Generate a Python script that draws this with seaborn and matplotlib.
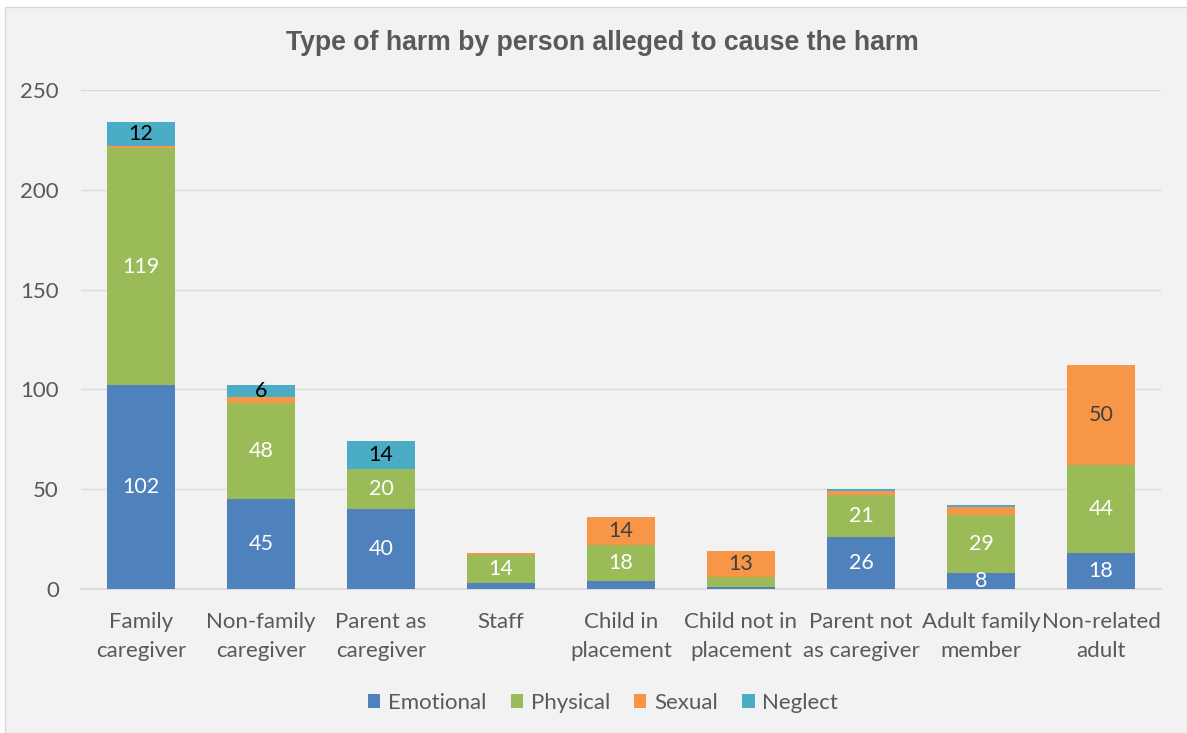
import matplotlib
matplotlib.use("Agg")
import matplotlib.pyplot as plt
import seaborn as sns
import pandas as pd
import numpy as np
from matplotlib.patches import Rectangle, Patch

categories = ["Family\ncaregiver", "Non-family\ncaregiver", "Parent as\ncaregiver", "Staff",
              "Child in\nplacement", "Child not in\nplacement", "Parent not\nas caregiver",
              "Adult family\nmember", "Non-related\nadult"]
emotional = [102, 45, 40, 3, 4, 1, 26, 8, 18]
physical = [119, 48, 20, 14, 18, 5, 21, 29, 44]
sexual = [1, 3, 0, 1, 14, 13, 2, 4, 50]
neglect = [12, 6, 14, 0, 0, 0, 1, 1, 0]

series_names = ["Emotional", "Physical", "Sexual", "Neglect"]
series_vals = [emotional, physical, sexual, neglect]
colors = ["#4F81BD", "#9BBB59", "#F79646", "#4BACC6"]
label_colors = ["white", "white", "#404040", "black"]

sns.set_theme(style="white")
plt.rcParams["font.family"] = ["Lato", "DejaVu Sans"]

fig = plt.figure(figsize=(11.87, 7.33), dpi=100)
fig.patch.set_facecolor("white")
fig.patches.append(Rectangle((5 / 1187, 0), 1 - 5 / 1187, 1 - 7 / 733, transform=fig.transFigure,
                             facecolor="#F2F2F2", edgecolor="#D9D9D9", linewidth=1, zorder=-10))
ax = fig.add_axes([81 / 1187, (733 - 589) / 733, 1080 / 1187, (589 - 90) / 733])
ax.set_facecolor("none")

df = pd.DataFrame({"cat": categories})
bottom = np.zeros(len(categories))
for name, vals, col, lc in zip(series_names, series_vals, colors, label_colors):
    df["v"] = vals
    sns.barplot(data=df, x="cat", y="v", color=col, bottom=bottom, width=0.56,
                ax=ax, saturation=1, zorder=3, edgecolor="none", linewidth=0)
    for i, v in enumerate(vals):
        if v >= 6:
            ax.text(i, bottom[i] + v / 2, str(v), ha="center", va="center",
                    fontsize=15.5, color=lc, zorder=4)
    bottom = bottom + np.array(vals)

ax.set_xlim(-0.5, len(categories) - 0.5)
ax.set_ylim(0, 250)
ax.set_yticks(range(0, 251, 50))
ax.yaxis.grid(True, color="#D9D9D9", linewidth=1, zorder=0)
ax.set_axisbelow(True)
for s in ["top", "right", "left"]:
    ax.spines[s].set_visible(False)
ax.spines["bottom"].set_color("#D9D9D9")
ax.tick_params(axis="both", length=0, labelsize=16, labelcolor="#595959")
ax.tick_params(axis="y", pad=16)
ax.tick_params(axis="x", pad=16.5)
for t in ax.get_yticklabels():
    t.set_horizontalalignment("right")
for t in ax.get_xticklabels():
    t.set_linespacing(1.56)
ax.set_xlabel("")
ax.set_ylabel("")

fig.text(602 / 1187, 1 - 43 / 733, "Type of harm by person alleged to cause the harm", ha="center", va="center",
         fontsize=19.2, fontweight="bold", color="#595959", family=["Liberation Sans", "DejaVu Sans"])

handles = [Patch(facecolor=c, edgecolor="none") for c in colors]
fig.legend(handles, series_names, loc="center", bbox_to_anchor=(603 / 1187, 1 - 703 / 733), ncol=4,
           frameon=False, fontsize=16, labelcolor="#595959", handlelength=0.55, handleheight=0.55,
           handletextpad=0.35, columnspacing=1.1)

fig.savefig("out.png", dpi=100, facecolor=fig.get_facecolor())
